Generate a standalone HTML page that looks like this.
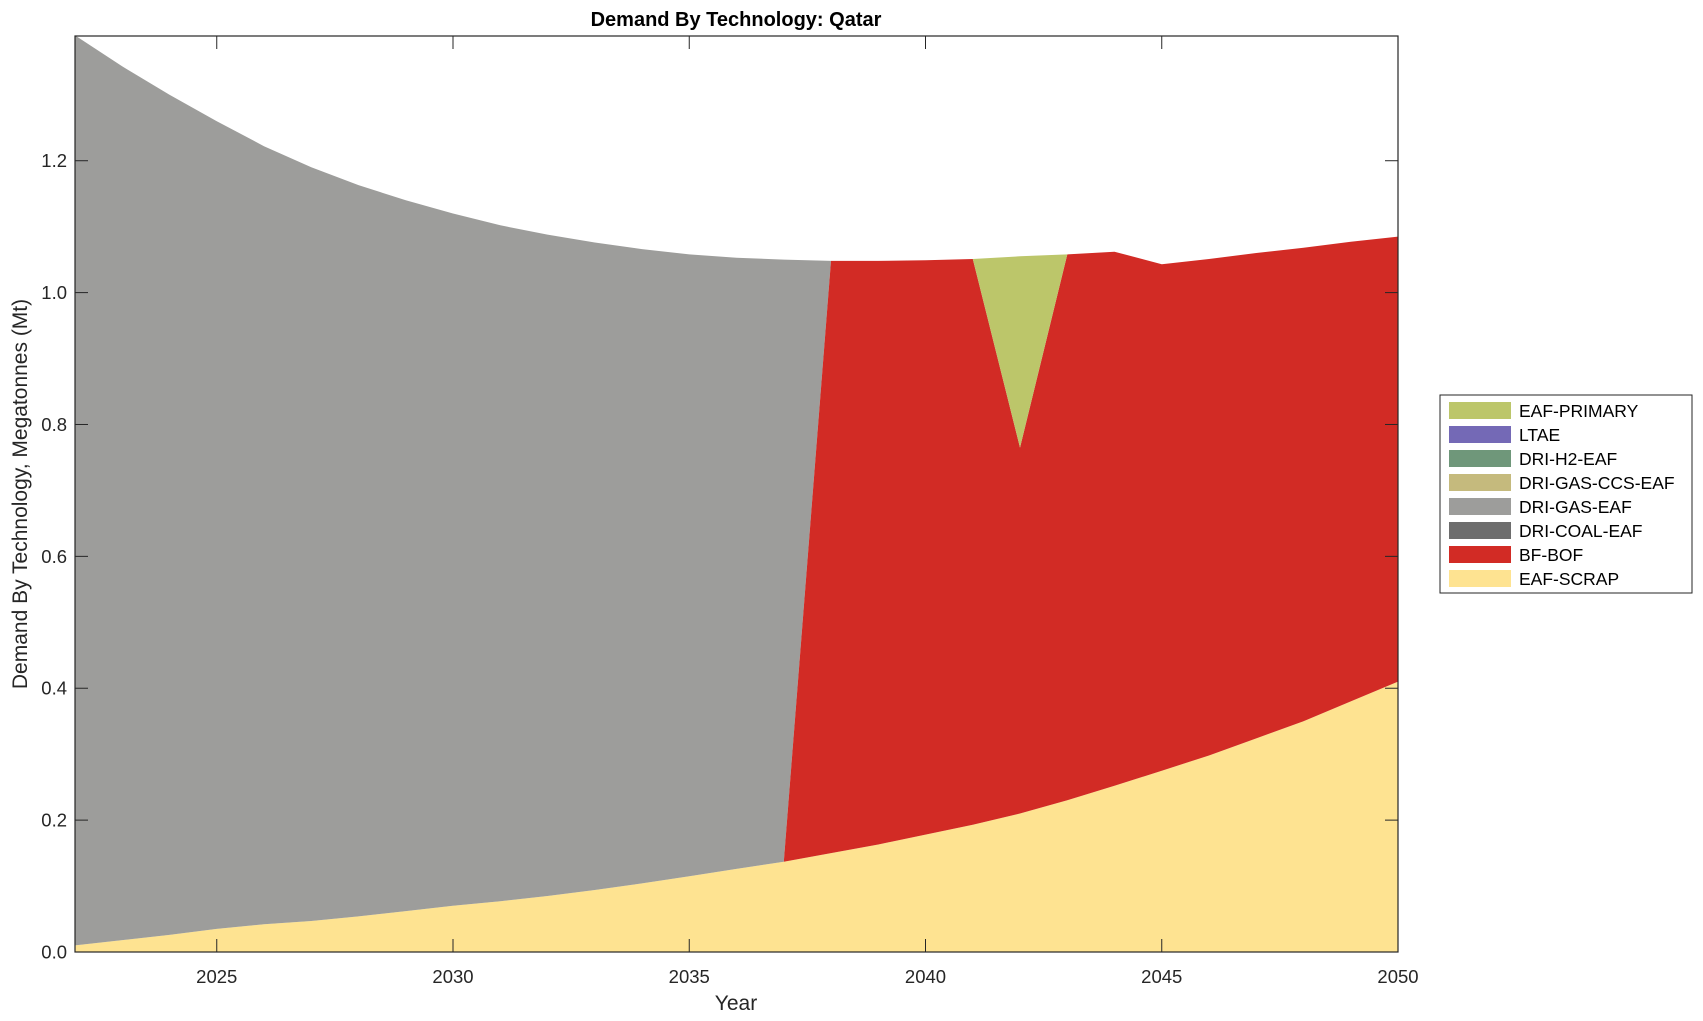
<!DOCTYPE html>
<html><head><meta charset="utf-8"><style>
body{margin:0;background:#fff;}
svg{display:block;font-family:"Liberation Sans",Arial,sans-serif;}
</style></head><body>
<svg id="s" width="1703" height="1021" xmlns="http://www.w3.org/2000/svg">
<g id="areas"></g>
<rect x="75" y="36" width="1323" height="916" fill="none" stroke="#262626" stroke-width="1.2"/>
<g id="ticks" stroke="#262626" stroke-width="1"></g>
<g id="labels" font-size="18.5" fill="#262626"></g>
<text x="736" y="26" font-size="20" font-weight="bold" text-anchor="middle" fill="#000">Demand By Technology: Qatar</text>
<text x="736" y="1010" font-size="21" text-anchor="middle" fill="#262626">Year</text>
<text transform="translate(27,494) rotate(-90)" font-size="21" text-anchor="middle" fill="#262626">Demand By Technology, Megatonnes (Mt)</text>
<g>
<rect x="1440" y="395" width="252" height="198" fill="#fff" stroke="#262626" stroke-width="1"/>
<g font-size="17.5" fill="#000">
<rect x="1449" y="402" width="62" height="17" fill="#bcc66a"/><text x="1519" y="417">EAF-PRIMARY</text>
<rect x="1449" y="426" width="62" height="17" fill="#7469b6"/><text x="1519" y="441">LTAE</text>
<rect x="1449" y="450" width="62" height="17" fill="#6f977a"/><text x="1519" y="465">DRI-H2-EAF</text>
<rect x="1449" y="474" width="62" height="17" fill="#c5ba7d"/><text x="1519" y="489">DRI-GAS-CCS-EAF</text>
<rect x="1449" y="498" width="62" height="17" fill="#9d9d9b"/><text x="1519" y="513">DRI-GAS-EAF</text>
<rect x="1449" y="522" width="62" height="17" fill="#6d6d6d"/><text x="1519" y="537">DRI-COAL-EAF</text>
<rect x="1449" y="546" width="62" height="17" fill="#d22b25"/><text x="1519" y="561">BF-BOF</text>
<rect x="1449" y="570" width="62" height="17" fill="#fee391"/><text x="1519" y="585">EAF-SCRAP</text>
</g></g>
</svg>
<script>
const X=y=>75+(y-2022)*1323/28, Y=v=>952-v*659.4;
const tot={2022:1.39,2023:1.343,2024:1.30,2025:1.26,2026:1.222,2027:1.19,2028:1.163,2029:1.14,2030:1.12,2031:1.102,2032:1.088,2033:1.076,2034:1.066,2035:1.058,2036:1.053,2037:1.05,2038:1.048,2039:1.048,2040:1.049,2041:1.051,2042:1.055,2043:1.058,2044:1.062,2045:1.043,2046:1.051,2047:1.06,2048:1.068,2049:1.077,2050:1.085};
const scr={2022:0.01,2023:0.018,2024:0.026,2025:0.035,2026:0.042,2027:0.047,2028:0.054,2029:0.062,2030:0.07,2031:0.077,2032:0.085,2033:0.094,2034:0.104,2035:0.115,2036:0.126,2037:0.137,2038:0.15,2039:0.163,2040:0.178,2041:0.193,2042:0.21,2043:0.23,2044:0.252,2045:0.275,2046:0.298,2047:0.324,2048:0.35,2049:0.38,2050:0.41};
const P=a=>a.map(p=>X(p[0]).toFixed(1)+','+Y(p[1]).toFixed(1)).join(' ');
let g=document.getElementById('areas'),h='';
let s=[];for(let y=2022;y<=2050;y++)s.push([y,scr[y]]);
h+=`<polygon fill="#fee391" points="${P([[2022,0],...s,[2050,0]])}"/>`;
let gt=[];for(let y=2022;y<=2038;y++)gt.push([y,tot[y]]);
let gb=[];for(let y=2037;y>=2022;y--)gb.push([y,scr[y]]);
h+=`<polygon fill="#9d9d9b" points="${P([...gt,...gb])}"/>`;
let rt=[[2037,scr[2037]]];for(let y=2038;y<=2050;y++){rt.push([y,y==2042?0.765:tot[y]]);}
let rb=[];for(let y=2050;y>=2037;y--)rb.push([y,scr[y]]);
h+=`<polygon fill="#d22b25" points="${P([...rt,...rb])}"/>`;
h+=`<polygon fill="#bcc66a" points="${P([[2041,tot[2041]],[2042,tot[2042]],[2043,tot[2043]],[2042,0.765]])}"/>`;
g.innerHTML=h;
let t='',l='';
for(let y=2025;y<=2050;y+=5){let x=X(y);t+=`<line x1="${x}" y1="952" x2="${x}" y2="939"/><line x1="${x}" y1="36" x2="${x}" y2="49"/>`;l+=`<text x="${x}" y="983" text-anchor="middle">${y}</text>`;}
for(let v=0;v<=1.2001;v+=0.2){let y=Y(v);t+=`<line x1="75" y1="${y}" x2="88" y2="${y}"/><line x1="1398" y1="${y}" x2="1385" y2="${y}"/>`;l+=`<text x="67" y="${y+6.5}" text-anchor="end">${v.toFixed(1)}</text>`;}
document.getElementById('ticks').innerHTML=t;document.getElementById('labels').innerHTML=l;
</script>
</body></html>
